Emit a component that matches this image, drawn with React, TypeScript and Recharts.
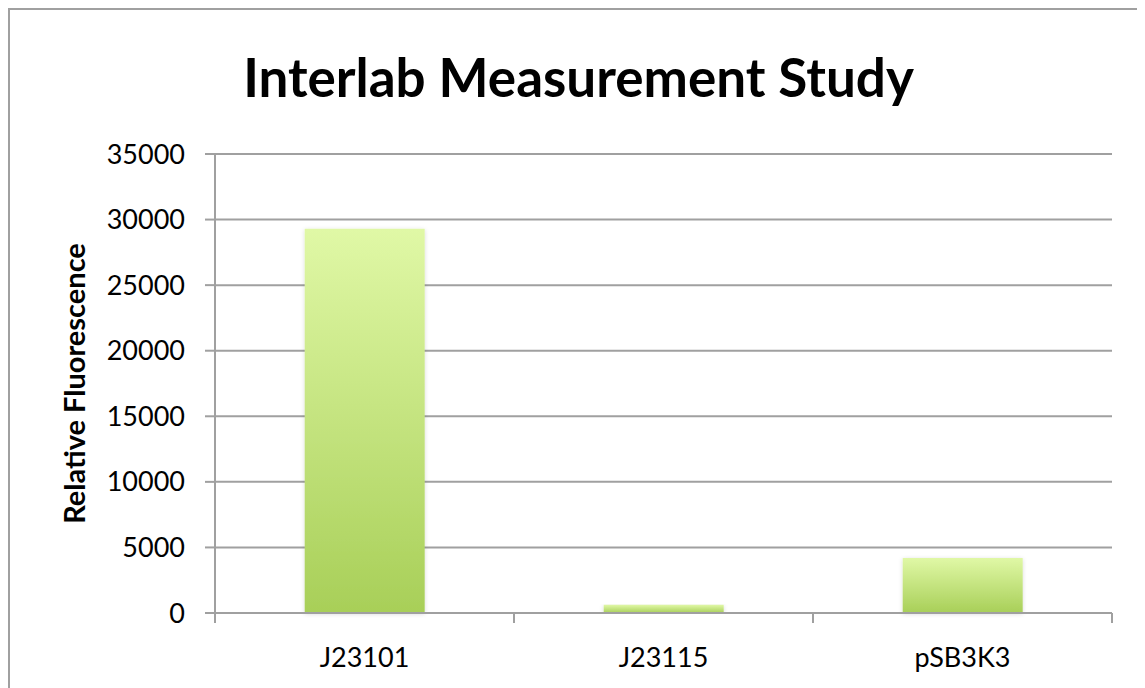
import { BarChart, Bar, XAxis, YAxis, CartesianGrid, Label } from "recharts";

const categories = ["J23101", "J23115", "pSB3K3"];
const fluorescence = [29300, 620, 4200];
const yTicks = [0, 5000, 10000, 15000, 20000, 25000, 30000, 35000];
const boundaryTicks = [0, 1, 2, 3];

const data = categories.map((name, i) => ({ name, idx: i + 0.5, value: fluorescence[i] }));

const font = "Lato, 'Open Sans', sans-serif";
const gray = "#a0a0a0";

const NoLabel = () => <g />;

export default function App() {
  return (
    <div
      style={{
        position: "relative",
        width: 1137,
        height: 680,
        borderTop: `2px solid ${gray}`,
        borderLeft: `2px solid ${gray}`,
        boxSizing: "border-box",
        background: "#fff",
        fontFamily: font,
      }}
    >
      <div
        style={{
          position: "absolute",
          left: 0,
          width: 1137,
          top: 35,
          textAlign: "center",
          fontSize: 53,
          fontWeight: 700,
          color: "#000",
          lineHeight: "64px",
        }}
      >
        Interlab Measurement Study
      </div>
      <BarChart
        width={1135}
        height={678}
        data={data}
        margin={{ top: 144, right: 33, left: 0, bottom: 15 }}
        barCategoryGap="30%"
        style={{ position: "absolute", left: 0, top: 0 }}
      >
        <defs>
          <linearGradient id="barFill" x1="0" y1="0" x2="0" y2="1">
            <stop offset="0%" stopColor="#e0f8a6" />
            <stop offset="100%" stopColor="#a8cf58" />
          </linearGradient>
          <filter id="barShadow" x="-10%" y="-10%" width="120%" height="120%">
            <feDropShadow dx="0" dy="1" stdDeviation="2" floodColor="#000" floodOpacity="0.15" />
          </filter>
        </defs>
        <CartesianGrid vertical={false} stroke={gray} strokeWidth={2} />
        <XAxis
          xAxisId="a"
          type="number"
          dataKey="idx"
          domain={[0, 3]}
          ticks={boundaryTicks}
          interval={0}
          tick={<NoLabel />}
          tickLine={{ stroke: gray, strokeWidth: 2 }}
          tickSize={10}
          stroke={gray}
          strokeWidth={2}
          height={1}
          allowDataOverflow
        />
        <XAxis
          xAxisId="b"
          dataKey="name"
          axisLine={false}
          tickLine={false}
          tickMargin={28}
          height={59}
          tick={{ fill: "#000", fontSize: 27, fontFamily: font }}
        />
        <YAxis
          width={205}
          domain={[0, 35000]}
          ticks={yTicks}
          interval={0}
          stroke={gray}
          strokeWidth={2}
          tickSize={10}
          tickMargin={20}
          tick={{ fill: "#000", fontSize: 27, fontFamily: font }}
        >
          <Label
            value="Relative Fluorescence"
            angle={-90}
            position="insideLeft"
            offset={65}
            style={{ textAnchor: "middle", fontSize: 29, fontWeight: 700, fill: "#000", fontFamily: font }}
          />
        </YAxis>
        <Bar
          xAxisId="b"
          dataKey="value"
          fill="url(#barFill)"
          filter="url(#barShadow)"
          isAnimationActive={false}
        />
      </BarChart>
    </div>
  );
}
